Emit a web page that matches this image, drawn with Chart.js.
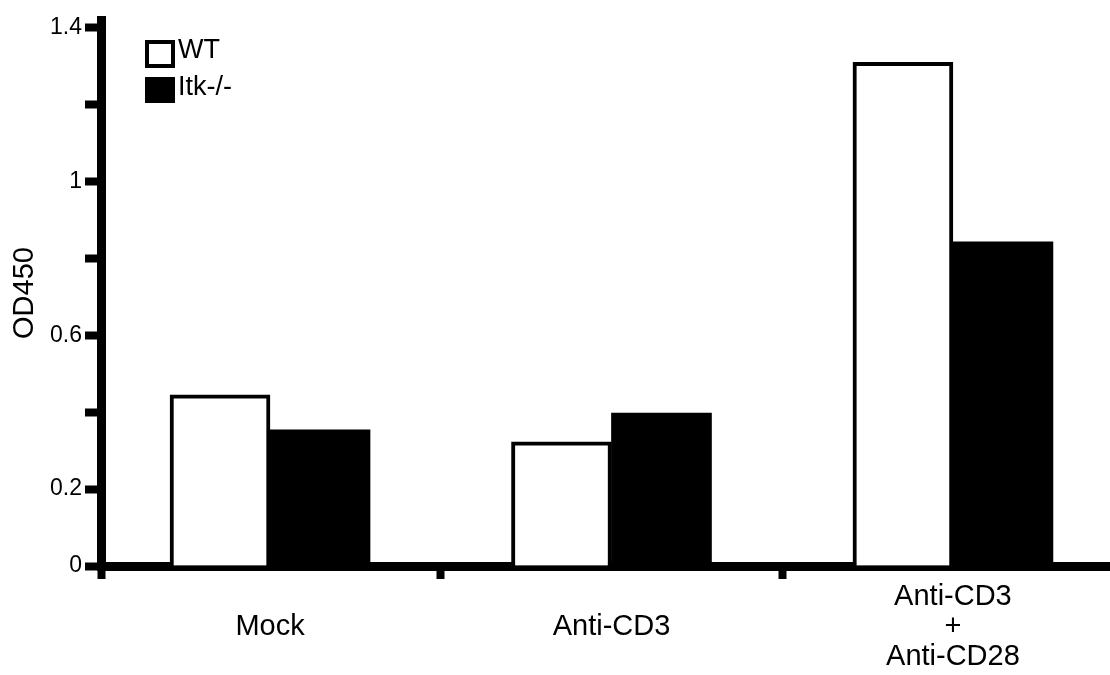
<!DOCTYPE html>
<html>
<head>
<meta charset="utf-8">
<script src="https://cdn.jsdelivr.net/npm/chart.js@4/dist/chart.umd.min.js"></script>
<style>
  html, body { margin: 0; padding: 0; background: #fff; }
  #wrap { width: 1110px; height: 675px; }
</style>
</head>
<body>
<div id="wrap"><canvas id="myChart"></canvas></div>
<script>
// groups on the x axis (0, 1, 2)
const categories = ['Mock', 'Anti-CD3', ['Anti-CD3', '+', 'Anti-CD28']];
const wtValues = [0.445, 0.323, 1.31];
const itkValues = [0.354, 0.398, 0.843];
const seriesNames = ['WT', 'Itk-/-'];
const yTickValues = [0, 0.2, 0.4, 0.6, 0.8, 1, 1.2, 1.4];
const yTickLabels = ['0', '0.2', '', '0.6', '', '1', '', '1.4'];

const FONT = '"Liberation Sans", Arial, sans-serif';
const xMin = -0.495;
const xMax = 2.46;

// small legend drawn in the top-left corner of the plot
const boxLegend = {
  id: 'boxLegend',
  afterDraw(chart) {
    const { ctx, chartArea } = chart;
    ctx.save();
    chart.data.datasets.forEach((ds, i) => {
      const x = chartArea.left + 44;
      const y = chartArea.top + 20 + i * 37;
      if (ds.backgroundColor === '#ffffff') {
        ctx.fillStyle = '#ffffff';
        ctx.fillRect(x, y, 30, 28);
        ctx.strokeStyle = '#000';
        ctx.lineWidth = 4;
        ctx.strokeRect(x + 2, y + 2, 26, 24);
      } else {
        ctx.fillStyle = '#000';
        ctx.fillRect(x, y, 30, 26);
      }
      ctx.fillStyle = '#000';
      ctx.font = '27px ' + FONT;
      ctx.textBaseline = 'alphabetic';
      ctx.textAlign = 'left';
      ctx.fillText(ds.label, x + 33, y + 18);
    });
    ctx.restore();
  }
};

const ctx = document.getElementById('myChart').getContext('2d');
const data = {
  datasets: [{
    label: seriesNames[0],
    data: wtValues.map((v, i) => ({ x: i, y: v })),
    backgroundColor: '#ffffff',
    borderColor: '#000',
    borderWidth: 4,
    barThickness: 100
  }, {
    label: seriesNames[1],
    data: itkValues.map((v, i) => ({ x: i, y: v })),
    backgroundColor: '#000',
    borderColor: '#000',
    borderWidth: 0,
    barThickness: 100
  }]
};

const config = {
  type: 'bar',
  data: data,
  plugins: [boxLegend],
  options: {
    responsive: true,
    maintainAspectRatio: false,
    animation: false,
    layout: { padding: { top: 20, right: 0, left: 0, bottom: 0 } },
    scales: {
      x: {
        type: 'linear',
        offset: false,
        min: xMin,
        max: xMax,
        afterBuildTicks: s => { s.ticks = [xMin, 0, 0.5, 1, 1.5, 2].map(v => ({ value: v })); },
        afterFit: s => { s.height = 675 - 566; },
        border: { color: '#000', width: 9 },
        grid: {
          offset: false,
          drawOnChartArea: false,
          tickLength: 13,
          tickWidth: 8,
          tickColor: c => (c.tick && Number.isInteger(c.tick.value)) ? 'rgba(0,0,0,0)' : '#000'
        },
        ticks: {
          autoSkip: false,
          maxRotation: 0,
          padding: 18,
          crossAlign: 'center',
          color: '#000',
          font: { family: FONT, size: 29, lineHeight: 1.035 },
          callback: v => Number.isInteger(v) && v >= 0 ? categories[v] : ''
        }
      },
      y: {
        min: 0,
        max: 1.42,
        afterBuildTicks: s => { s.ticks = yTickValues.map(v => ({ value: v })); },
        afterFit: s => { s.width = 101; },
        border: { color: '#000', width: 9 },
        grid: {
          drawOnChartArea: false,
          tickLength: 16,
          tickWidth: 8,
          tickColor: '#000'
        },
        ticks: {
          padding: 3,
          color: '#000',
          font: { family: FONT, size: 23 },
          callback: function(value) {
            const i = yTickValues.indexOf(value);
            return i >= 0 ? yTickLabels[i] : '';
          }
        },
        title: {
          display: true,
          text: 'OD450',
          color: '#000',
          font: { family: FONT, size: 29 },
          padding: { top: 8, bottom: 0 }
        }
      }
    },
    plugins: {
      legend: { display: false },
      tooltip: { enabled: false }
    }
  }
};

const myChart = new Chart(ctx, config);
</script>
</body>
</html>
